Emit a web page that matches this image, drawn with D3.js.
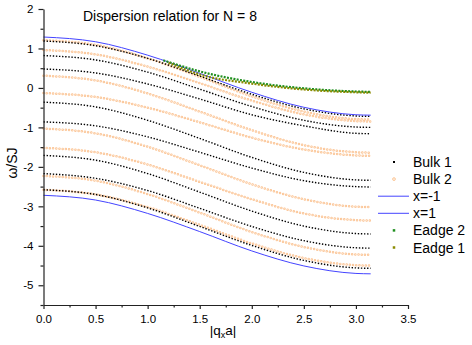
<!DOCTYPE html>
<html>
<head>
<meta charset="utf-8">
<script src="https://cdn.jsdelivr.net/npm/d3@7"></script>
<style>
  body { margin: 0; background: #fff; }
  text { font-family: "Liberation Sans", Arial, sans-serif; fill: #000; }
</style>
</head>
<body>
<div id="chart"></div>
<script>
const qGrid = [0, 0.5, 1.0, 1.5, 2.0, 2.5, 3.0, 3.1416];

// Bulk 1 (black) bands, one row per band
const bulk1 = [
    [1.19, 1.07, 0.75, 0.30, -0.16, -0.53, -0.71, -0.72],
    [0.82, 0.71, 0.40, -0.03, -0.47, -0.82, -0.99, -1.00],
    [0.48, 0.38, 0.10, -0.28, -0.68, -0.96, -1.15, -1.16],
    [-0.36, -0.48, -0.82, -1.28, -1.76, -2.14, -2.33, -2.34],
    [-0.86, -0.96, -1.24, -1.63, -2.03, -2.35, -2.50, -2.51],
    [-1.71, -1.83, -2.17, -2.64, -3.12, -3.50, -3.69, -3.70],
    [-2.17, -2.29, -2.60, -3.05, -3.51, -3.87, -4.05, -4.06],
    [-2.58, -2.70, -3.04, -3.51, -3.99, -4.37, -4.56, -4.57]
];

// Bulk 2 (orange) bands
const bulk2 = [
    [1.21, 1.09, 0.75, 0.28, -0.21, -0.60, -0.79, -0.80],
    [0.96, 0.85, 0.54, 0.12, -0.32, -0.67, -0.84, -0.85],
    [0.31, 0.19, -0.14, -0.60, -1.07, -1.45, -1.63, -1.64],
    [-0.13, -0.23, -0.50, -0.87, -1.26, -1.56, -1.71, -1.72],
    [-1.03, -1.15, -1.49, -1.96, -2.44, -2.82, -3.01, -3.02],
    [-1.52, -1.63, -1.94, -2.38, -2.82, -3.18, -3.35, -3.36],
    [-2.23, -2.35, -2.69, -3.16, -3.65, -4.03, -4.22, -4.23],
    [-2.58, -2.70, -3.02, -3.47, -3.94, -4.31, -4.49, -4.50]
];

// band edges
const xMinus1 = [1.29, 1.17, 0.83, 0.37, -0.11, -0.49, -0.68, -0.69];
const xPlus1 = [-2.72, -2.84, -3.18, -3.64, -4.13, -4.51, -4.70, -4.71];

// edge states
const edge2Q = [1.15, 1.5, 2.0, 2.5, 3.0, 3.1416];
const edge2 = [0.70, 0.42, 0.15, -0.01, -0.09, -0.10];
const edge1Q = [1.2, 1.5, 2.0, 2.5, 3.0, 3.1416];
const edge1 = [0.64, 0.34, 0.11, -0.04, -0.11, -0.12];

const xTicks = [0, 0.5, 1.0, 1.5, 2.0, 2.5, 3.0, 3.5];
const xMinor = [0.25, 0.75, 1.25, 1.75, 2.25, 2.75, 3.25];
const yTicks = [-5, -4, -3, -2, -1, 0, 1, 2];
const yMinor = [-5.5, -4.5, -3.5, -2.5, -1.5, -0.5, 0.5, 1.5];

const legendItems = [
    { label: "Bulk 1", kind: "square", color: "#000", size: 2 },
    { label: "Bulk 2", kind: "circle", color: "#fcc99b", size: 1.4 },
    { label: "x=-1", kind: "line", color: "#4444ff" },
    { label: "x=1", kind: "line", color: "#4444ff" },
    { label: "Eadge 2", kind: "square", color: "#1f8f1f", size: 2.5 },
    { label: "Eadge 1", kind: "square", color: "#8b8b00", size: 2.5 }
];

const width = 472, height = 345;
const svg = d3.select("#chart").append("svg")
    .attr("width", width)
    .attr("height", height);

const x = d3.scaleLinear().domain([0, 3.5]).range([43.5, 408]);
const y = d3.scaleLinear().domain([-5.5, 2]).range([305, 9]);

function lineOf(qs) {
    return d3.line()
        .defined(d => d != null)
        .x((d, i) => x(qs[i]))
        .y(d => y(d))
        .curve(d3.curveMonotoneX);
}

const plot = svg.append("g");

// orange rings first, black squares on top of them
bulk2.forEach(band => {
    plot.append("path")
        .attr("d", lineOf(qGrid)(band))
        .attr("fill", "none")
        .attr("stroke", "#fbc291")
        .attr("stroke-width", 2.5)
        .attr("stroke-linecap", "round")
        .attr("stroke-dasharray", "0,3.2");
    plot.append("path")
        .attr("d", lineOf(qGrid)(band))
        .attr("fill", "none")
        .attr("stroke", "#fff0e2")
        .attr("stroke-width", 0.9)
        .attr("stroke-linecap", "round")
        .attr("stroke-dasharray", "0,3.2");
});

bulk1.forEach(band => {
    plot.append("path")
        .attr("d", lineOf(qGrid)(band))
        .attr("fill", "none")
        .attr("stroke", "#000")
        .attr("stroke-width", 1.4)
        .attr("stroke-dasharray", "1.4,1.7");
});

[xMinus1, xPlus1].forEach(band => {
    plot.append("path")
        .attr("d", lineOf(qGrid)(band))
        .attr("fill", "none")
        .attr("stroke", "#4444ff")
        .attr("stroke-width", 1);
});

plot.append("path")
    .attr("d", lineOf(edge2Q)(edge2))
    .attr("fill", "none")
    .attr("stroke", "#1f8f1f")
    .attr("stroke-width", 2.2)
    .attr("stroke-dasharray", "2,1.3");

plot.append("path")
    .attr("d", lineOf(edge1Q)(edge1))
    .attr("fill", "none")
    .attr("stroke", "#8b8b00")
    .attr("stroke-width", 2.2)
    .attr("stroke-dasharray", "2,1.3");

// axes
svg.append("g")
    .attr("transform", `translate(0,${y(-5.5)})`)
    .call(d3.axisBottom(x).tickValues(xTicks).tickSize(4).tickSizeOuter(0)
        .tickPadding(6).tickFormat(d3.format(".1f")));
svg.append("g")
    .attr("transform", `translate(0,${y(-5.5)})`)
    .call(d3.axisBottom(x).tickValues(xMinor).tickSize(2.5).tickFormat(""))
    .call(g => g.select(".domain").remove());

svg.append("g")
    .attr("transform", `translate(${x(0)},0)`)
    .call(d3.axisLeft(y).tickValues(yTicks).tickSize(5).tickSizeOuter(0)
        .tickPadding(5).tickFormat(d => String(d)));
svg.append("g")
    .attr("transform", `translate(${x(0)},0)`)
    .call(d3.axisLeft(y).tickValues(yMinor).tickSize(3).tickFormat(""))
    .call(g => g.select(".domain").remove());

svg.selectAll(".domain, .tick line").attr("stroke", "#222").attr("stroke-width", 1.2);
svg.selectAll(".tick text")
    .attr("font-family", "Liberation Sans, Arial, sans-serif")
    .attr("font-size", 11.5)
    .attr("fill", "#000");

// titles
svg.append("text")
    .attr("x", 83)
    .attr("y", 20.5)
    .attr("font-size", 14)
    .text("Dispersion relation for N = 8");

const xl = svg.append("text")
    .attr("x", 223)
    .attr("y", 335)
    .attr("text-anchor", "middle")
    .attr("font-size", 13.5);
xl.append("tspan").text("|q");
xl.append("tspan").attr("dy", 3).attr("font-size", 9).text("x");
xl.append("tspan").attr("dy", -3).text("a|");

svg.append("text")
    .attr("transform", "translate(17,163) rotate(-90)")
    .attr("text-anchor", "middle")
    .attr("font-size", 14)
    .text("ω/SJ");

// legend
const legend = svg.append("g");
legendItems.forEach((item, i) => {
    const cy = 162 + i * 17.1;
    if (item.kind === "line") {
        legend.append("line")
            .attr("x1", 378).attr("x2", 409)
            .attr("y1", cy).attr("y2", cy)
            .attr("stroke", item.color).attr("stroke-width", 1);
    } else if (item.kind === "circle") {
        legend.append("circle")
            .attr("cx", 394).attr("cy", cy).attr("r", item.size)
            .attr("fill", "#fff0e2").attr("stroke", item.color).attr("stroke-width", 1);
    } else {
        legend.append("rect")
            .attr("x", 394 - item.size / 2).attr("y", cy - item.size / 2)
            .attr("width", item.size).attr("height", item.size)
            .attr("fill", item.color);
    }
    legend.append("text")
        .attr("x", 413)
        .attr("y", cy + 5)
        .attr("font-size", 14)
        .text(item.label);
});
</script>
</body>
</html>
